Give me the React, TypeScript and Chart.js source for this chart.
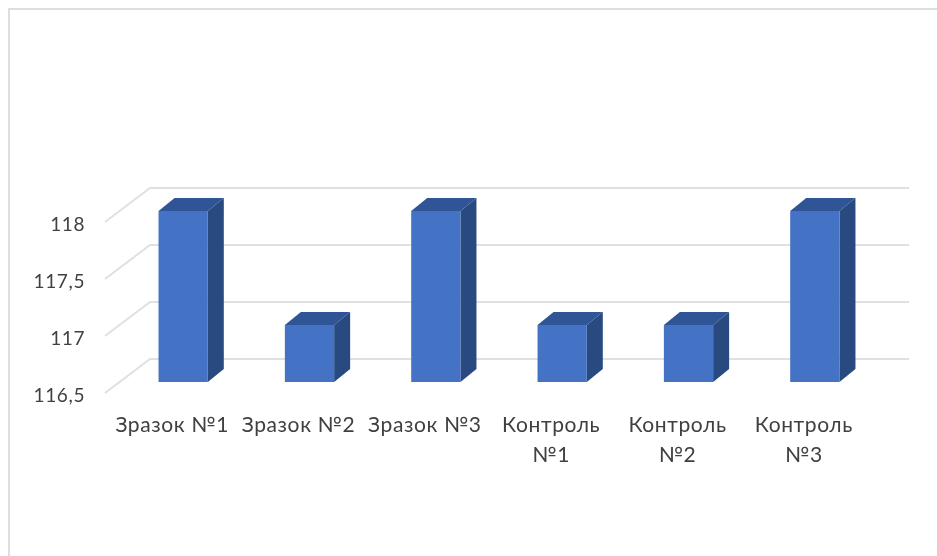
import { useEffect, useRef } from "react";
import { Chart, registerables } from "chart.js";

Chart.register(...registerables);

const categories = [
  "Зразок №1",
  "Зразок №2",
  "Зразок №3",
  ["Контроль", "№1"],
  ["Контроль", "№2"],
  ["Контроль", "№3"],
];
const values = [118, 117, 118, 117, 117, 118];
const axisMin = 116.5;
const axisMax = 118;
const axisStep = 0.5;

const FRONT = "#4472c4";
const TOP = "#2f5597";
const SIDE = "#284a80";
const GRID = "#e0e0e0";
const TEXT = "#404040";
const FONT = "Lato, 'Open Sans', sans-serif";

// Offsets of the pseudo-3D depth: bars and the back wall of the plot.
const BAR_DX = 16;
const BAR_DY = -13;
const FLOOR_FRONT = { x: 105, dy: 11 };
const WALL = { x: 150, right: 909, dy: -23 };

const wallGrid = {
  id: "wallGrid",
  beforeDraw(chart: any) {
    // Slightly open tracking for every label drawn on this canvas.
    chart.ctx.letterSpacing = "0.6px";
  },
  beforeDatasetsDraw(chart: any) {
    const { ctx, scales } = chart;
    ctx.save();
    ctx.strokeStyle = GRID;
    ctx.lineWidth = 2;
    for (const tick of scales.y.ticks) {
      const y = scales.y.getPixelForValue(tick.value);
      ctx.beginPath();
      ctx.moveTo(FLOOR_FRONT.x, y + FLOOR_FRONT.dy);
      ctx.lineTo(WALL.x, y + WALL.dy);
      ctx.lineTo(WALL.right, y + WALL.dy);
      ctx.stroke();
    }
    ctx.restore();
  },
};

const barDepth = {
  id: "barDepth",
  beforeDatasetsDraw(chart: any) {
    const { ctx } = chart;
    ctx.save();
    for (const bar of chart.getDatasetMeta(0).data) {
      const left = bar.x - bar.width / 2;
      const right = bar.x + bar.width / 2;
      ctx.fillStyle = TOP;
      ctx.beginPath();
      ctx.moveTo(left, bar.y);
      ctx.lineTo(left + BAR_DX, bar.y + BAR_DY);
      ctx.lineTo(right + BAR_DX, bar.y + BAR_DY);
      ctx.lineTo(right, bar.y);
      ctx.closePath();
      ctx.fill();
      ctx.fillStyle = SIDE;
      ctx.beginPath();
      ctx.moveTo(right, bar.y);
      ctx.lineTo(right + BAR_DX, bar.y + BAR_DY);
      ctx.lineTo(right + BAR_DX, bar.base + BAR_DY);
      ctx.lineTo(right, bar.base);
      ctx.closePath();
      ctx.fill();
    }
    ctx.restore();
  },
};

export default function App() {
  const ref = useRef<HTMLCanvasElement>(null);

  useEffect(() => {
    const chart = new Chart(ref.current!, {
      type: "bar",
      data: {
        labels: categories,
        datasets: [
          {
            data: values,
            base: axisMin,
            backgroundColor: FRONT,
            barPercentage: 0.39,
            categoryPercentage: 1,
          },
        ],
      },
      plugins: [wallGrid, barDepth],
      options: {
        responsive: false,
        animation: false,
        layout: { padding: { top: 211, right: 59, left: 0, bottom: 0 } },
        plugins: {
          legend: { display: false },
          title: { display: false },
          tooltip: { enabled: false },
        },
        scales: {
          x: {
            grid: { display: false },
            border: { display: false },
            afterFit(scale: any) {
              scale.height = 174;
            },
            ticks: {
              color: TEXT,
              font: { family: FONT, size: 21, lineHeight: 1.43 },
              maxRotation: 0,
              autoSkip: false,
              labelOffset: -11,
              padding: 20,
            },
          },
          y: {
            min: axisMin,
            max: axisMax,
            grid: { display: false, drawTicks: false },
            border: { display: false },
            afterFit(scale: any) {
              scale.width = 120;
            },
            ticks: {
              stepSize: axisStep,
              color: TEXT,
              font: { family: FONT, size: 19 },
              padding: 35,
              labelOffset: 14,
              callback: (v: any) => String(v).replace(".", ","),
            },
          },
        },
      },
    });
    return () => chart.destroy();
  }, []);

  return (
    <div style={{ position: "fixed", inset: 0, background: "#fff" }}>
      <div
        style={{
          position: "absolute",
          left: 8,
          top: 8,
          width: 937,
          height: 600,
          boxSizing: "border-box",
          border: "2px solid #dedede",
        }}
      />
      <canvas ref={ref} width={937} height={556} style={{ position: "absolute", left: 0, top: 0, display: "block" }} />
    </div>
  );
}
